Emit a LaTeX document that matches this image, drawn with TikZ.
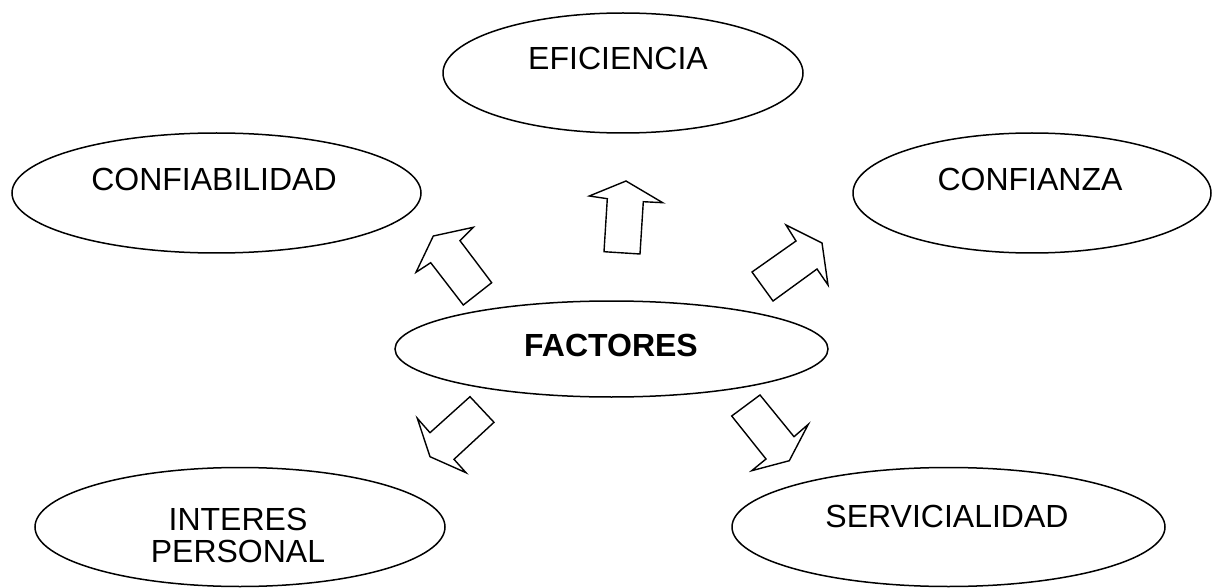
\documentclass[tikz,border=0pt]{standalone}
\usepackage{fontspec}
\setmainfont{Liberation Sans}
\usetikzlibrary{shapes.geometric}
\begin{document}
\begin{tikzpicture}[x=1pt,y=-1pt,
  oval/.style={ellipse,draw,line width=1.5pt,inner sep=0pt},
  lbl/.style={anchor=base,inner sep=0pt,font=\fontsize{32}{36}\selectfont},
  blockarrow/.style={draw,line width=1.4pt,line join=miter,fill=white}]
\useasboundingbox (0,0) rectangle (1213,588);
% ellipses
\node[oval,minimum width=360pt,minimum height=120pt] (efi) at (623,73) {};
\node[oval,minimum width=409pt,minimum height=120pt] (cfb) at (216.5,193) {};
\node[oval,minimum width=358pt,minimum height=120pt] (cfz) at (1032,193) {};
\node[oval,minimum width=433pt,minimum height=96pt] (fac) at (611.5,349) {};
\node[oval,minimum width=410pt,minimum height=119pt] (int) at (240,527) {};
\node[oval,minimum width=433pt,minimum height=119pt] (ser) at (948.5,527) {};
% labels
\node[lbl] (tefi) at (618,70) {EFICIENCIA};
\node[lbl] (tcfb) at (214,191) {CONFIABILIDAD};
\node[lbl] (tcfz) at (1030,191) {CONFIANZA};
\node[lbl,font=\fontsize{32}{36}\selectfont\bfseries] (tfac) at (611,356) {FACTORES};
\node[lbl] (tint1) at (238,530) {INTERES};
\node[lbl] (tint2) at (238,562) {PERSONAL};
\node[lbl] (tser) at (947,527) {SERVICIALIDAD};
% block arrows
\draw[blockarrow] (433.3,236) -- (473.3,227.3) -- (460,240.7) -- (491.7,282.7) -- (463.3,305) -- (430.7,262.7) -- (416,272.3) -- cycle;
\draw[blockarrow] (626,181) -- (662.7,202.7) -- (643.3,201.7) -- (640,254) -- (604,251.7) -- (607.3,198.7) -- (589.3,196) -- cycle;
\draw[blockarrow] (822,243) -- (828,285) -- (817,269) -- (773,301) -- (752,272) -- (796,241) -- (786,225) -- cycle;
\draw[blockarrow] (430,456.7) -- (466,472.7) -- (454,459.3) -- (494,422.3) -- (470,396.7) -- (430,432.7) -- (417.3,418.3) -- cycle;
\draw[blockarrow] (789.3,460.7) -- (808.3,424.3) -- (794,436.7) -- (760,395) -- (731.7,416) -- (766,459) -- (751.7,470.7) -- cycle;
\end{tikzpicture}
\end{document}
